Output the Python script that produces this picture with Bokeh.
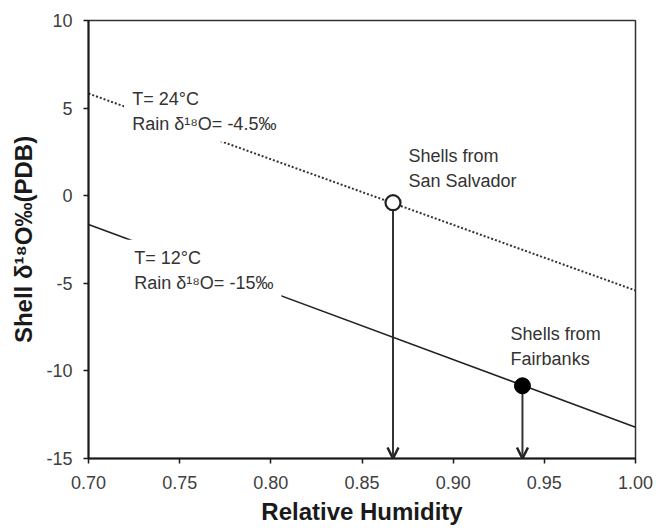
from bokeh.plotting import figure
from bokeh.models import Range1d, FixedTicker, Label, Arrow, OpenHead
from bokeh.embed import file_html
from bokeh.resources import INLINE

# ---- data ----
rh_line = [0.70, 1.00]
warm_d18o = [5.83, -5.41]      # T=24°C, rain -4.5‰ (dotted)
cold_d18o = [-1.64, -13.21]    # T=12°C, rain -15‰ (solid)
site_names = ["San Salvador", "Fairbanks"]
site_rh = [0.867, 0.938]
site_d18o = [-0.40, -10.85]
x_ticks = [0.70, 0.75, 0.80, 0.85, 0.90, 0.95, 1.00]
x_tick_labels = ["0.70", "0.75", "0.80", "0.85", "0.90", "0.95", "1.00"]
y_ticks = [-15, -10, -5, 0, 5, 10]
y_tick_labels = ["-15", "-10", "-5", "0", "5", "10"]

FONT = "Liberation Sans"

p = figure(width=656, height=530,
           x_range=Range1d(0.70, 1.00), y_range=Range1d(-15, 10),
           output_backend="svg", toolbar_location=None,
           min_border_left=88, min_border_right=21,
           min_border_top=20, min_border_bottom=72)
p.xgrid.visible = False
p.ygrid.visible = False
p.outline_line_color = "#333333"
p.outline_line_width = 1.5
p.background_fill_color = "white"
p.border_fill_color = "white"

for ax in (p.xaxis[0], p.yaxis[0]):
    ax.axis_line_color = "#1a1a1a"
    ax.axis_line_width = 2
    ax.major_tick_line_color = "#1a1a1a"
    ax.major_tick_line_width = 1.5
    ax.major_tick_out = 5
    ax.major_tick_in = 0
    ax.minor_tick_line_color = None
    ax.major_label_text_font = FONT
    ax.major_label_text_font_size = "18px"
    ax.major_label_text_color = "#404040"
    ax.axis_label_text_font = FONT
    ax.axis_label_text_font_style = "bold"
    ax.axis_label_text_font_size = "24px"
    ax.axis_label_text_color = "#1a1a1a"

p.xaxis.ticker = FixedTicker(ticks=x_ticks)
p.xaxis.major_label_overrides = dict(zip(x_ticks, x_tick_labels))
p.yaxis.ticker = FixedTicker(ticks=y_ticks)
p.yaxis.major_label_overrides = dict(zip(y_ticks, y_tick_labels))
p.xaxis.major_label_standoff = 12
p.yaxis.major_label_standoff = 11
p.xaxis.axis_label = "Relative Humidity"
p.yaxis.axis_label = "Shell δ¹⁸O‰(PDB)"
p.xaxis.axis_label_standoff = 6
p.yaxis.axis_label_standoff = 6

# lines
p.line(rh_line, warm_d18o, line_color="#333333", line_width=2, line_dash="2 2")
p.line(rh_line, cold_d18o, line_color="#222222", line_width=1.6)

# arrows down to the x axis
for xr, yv in zip(site_rh, site_d18o):
    arr = Arrow(x_start=xr, y_start=yv, x_end=xr, y_end=p.y_range.start,
                line_color="#333333", line_width=2,
                end=OpenHead(size=11, line_width=2.5, line_color="#222222"),
                level="underlay")
    p.add_layout(arr)

# site points
p.scatter([site_rh[0]], [site_d18o[0]], size=15, fill_color="white",
          line_color="#222222", line_width=2.2)
p.scatter([site_rh[1]], [site_d18o[1]], size=16, fill_color="black",
          line_color="black", line_width=1)

def add_label(x, y, text, bg=True):
    lab = Label(x=x, y=y, text=text, text_font=FONT, text_font_size="18px",
                text_color="#333333", text_align="left", text_baseline="top",
                text_line_height=1.25)
    if bg:
        lab.background_fill_color = "white"
        lab.padding = 8
    p.add_layout(lab)

add_label(0.7196, 6.56, "T= 24°C\nRain δ¹⁸O= -4.5‰")
add_label(0.7207, -2.51, "T= 12°C\nRain δ¹⁸O= -15‰")
add_label(0.8755, 2.85, "Shells from\n" + site_names[0], bg=False)
add_label(0.9315, -7.3, "Shells from\n" + site_names[1], bg=False)

open("out.html", "w").write(file_html(p, INLINE))
